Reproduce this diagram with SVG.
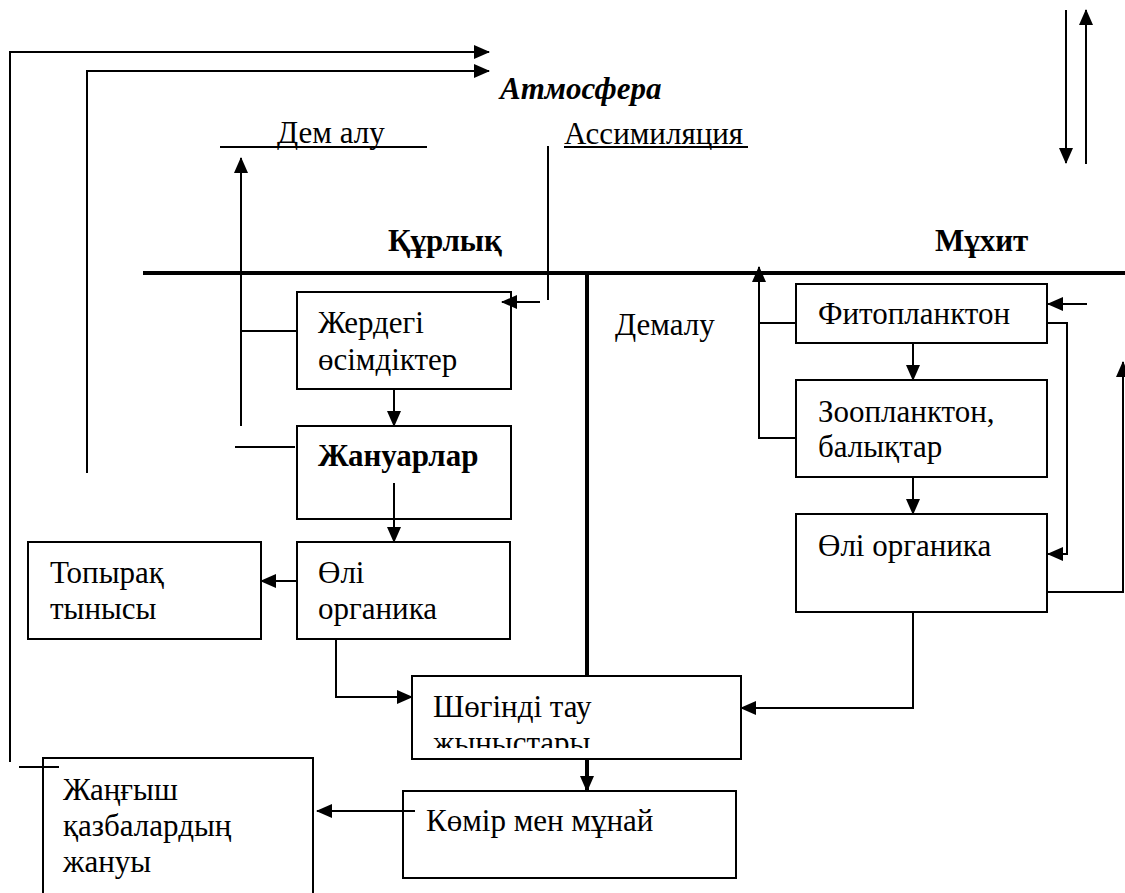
<svg xmlns="http://www.w3.org/2000/svg" width="1125" height="893" viewBox="0 0 1125 893" font-family="Liberation Serif" font-size="31">
<style>
.box{fill:#fff;stroke:#000;stroke-width:2}
.t{fill:#000}
.b{font-weight:bold}
.c{fill:none;stroke:#000;stroke-width:2}
.thick{fill:none;stroke:#000;stroke-width:4}
.a{marker-end:url(#ah)}
</style>
<defs>
<marker id="ah" markerUnits="userSpaceOnUse" markerWidth="16" markerHeight="14" refX="15" refY="7" orient="auto">
<path d="M0,0 L16,7 L0,14 z" fill="#000"/>
</marker>
<clipPath id="clipS"><rect x="412" y="676" width="329" height="72"/></clipPath>
</defs>
<rect width="1125" height="893" fill="#fff"/>

<g id="labels">
<text class="t b" x="500" y="99" font-style="italic">Атмосфера</text>
<text class="t" x="277" y="143">Дем алу</text>
<line class="c" x1="220" y1="147" x2="427" y2="147"/>
<text class="t" x="564" y="144">Ассимиляция</text>
<line class="c" x1="564" y1="147" x2="748" y2="147"/>
<text class="t b" x="388" y="251">Құрлық</text>
<text class="t b" x="935" y="251">Мұхит</text>
<text class="t" x="615" y="335">Демалу</text>
</g>

<g id="dividers">
<line class="thick" x1="143" y1="273" x2="1125" y2="273"/>
<line class="thick" x1="587" y1="273" x2="587" y2="676"/>
</g>

<g id="node-plants">
<rect class="box" x="297" y="292" width="214" height="97"/>
<text class="t" x="318" y="333">Жердегі</text>
<text class="t" x="318" y="370">өсімдіктер</text>
</g>
<g id="node-animals">
<rect class="box" x="297" y="426" width="214" height="93"/>
<text class="t b" x="318" y="466">Жануарлар</text>
</g>
<g id="node-dead-land">
<rect class="box" x="297" y="542" width="213" height="97"/>
<text class="t" x="318" y="583">Өлі</text>
<text class="t" x="318" y="619">органика</text>
</g>
<g id="node-soil">
<rect class="box" x="28" y="542" width="233" height="97"/>
<text class="t" x="50" y="583">Топырақ</text>
<text class="t" x="50" y="619">тынысы</text>
</g>
<g id="node-phyto">
<rect class="box" x="796" y="284" width="251" height="59"/>
<text class="t" x="818" y="324">Фитопланктон</text>
</g>
<g id="node-zoo">
<rect class="box" x="796" y="380" width="251" height="97"/>
<text class="t" x="818" y="422">Зоопланктон,</text>
<text class="t" x="818" y="457">балықтар</text>
</g>
<g id="node-dead-ocean">
<rect class="box" x="796" y="514" width="251" height="98"/>
<text class="t" x="818" y="556">Өлі органика</text>
</g>
<g id="node-sediment">
<rect class="box" x="412" y="676" width="329" height="83"/>
<text class="t" x="433" y="717">Шөгінді тау</text>
<text class="t" x="433" y="753" clip-path="url(#clipS)">жыныстары</text>
</g>
<g id="node-coal">
<rect class="box" x="403" y="791" width="333" height="87"/>
<text class="t" x="426" y="831">Көмір мен мұнай</text>
</g>
<g id="node-burning">
<path class="c" d="M43,893 V758 H313 V893"/>
<text class="t" x="63" y="800">Жаңғыш</text>
<text class="t" x="63" y="836">қазбалардың</text>
<text class="t" x="63" y="872">жануы</text>
</g>

<g id="connectors">
<path class="c a" d="M10,762 V52 H489"/>
<line class="c" x1="19" y1="767" x2="59" y2="767"/>
<path class="c a" d="M87,473 V71 H489"/>
<path class="c a" d="M241,426 V158"/>
<line class="c" x1="241" y1="331" x2="297" y2="331"/>
<line class="c" x1="235" y1="447" x2="295" y2="447"/>
<line class="c" x1="548" y1="146" x2="548" y2="300"/>
<path class="c a" d="M540,302 H502"/>
<path class="c a" d="M394,389 V426"/>
<path class="c a" d="M394,483 V542"/>
<path class="c a" d="M297,581 H261"/>
<path class="c a" d="M336,639 V697 H412"/>
<path class="c a" d="M913,612 V708 H741"/>
<path class="thick a" d="M587,759 V791"/>
<path class="c a" d="M415,811 H317"/>
<path class="c a" d="M913,343 V380"/>
<path class="c a" d="M913,477 V514"/>
<path class="c a" d="M796,438 H759 V267"/>
<line class="c" x1="759" y1="323" x2="796" y2="323"/>
<path class="c a" d="M1087,304 H1048"/>
<path class="c a" d="M1047,323 H1067 V554 H1048"/>
<path class="c a" d="M1047,592 H1123 V362"/>
<path class="c a" d="M1066,10 V163"/>
<path class="c a" d="M1086,164 V10"/>
</g>
</svg>
